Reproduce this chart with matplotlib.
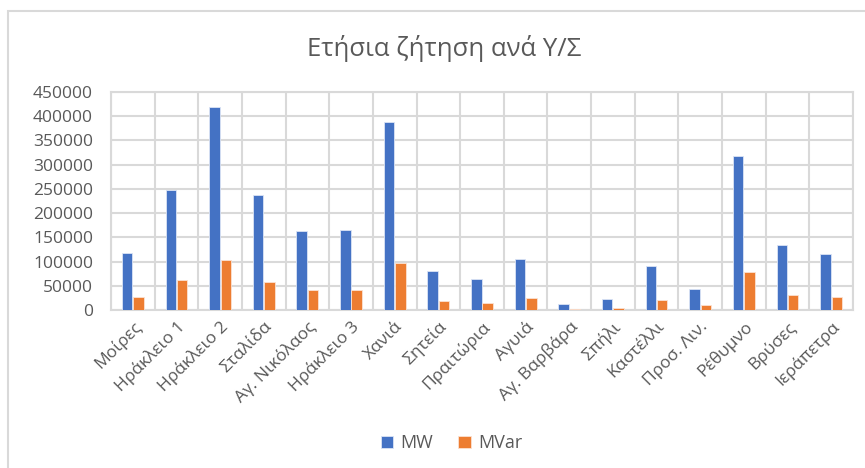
import matplotlib
matplotlib.use("Agg")
import matplotlib.pyplot as plt
from matplotlib.patches import Rectangle
import numpy as np

plt.rcParams['font.family'] = ['Open Sans', 'DejaVu Sans']

stations = ["Μοίρες", "Ηράκλειο 1", "Ηράκλειο 2", "Σταλίδα", "Αγ. Νικόλαος",
            "Ηράκλειο 3", "Χανιά", "Σητεία", "Πραιτώρια", "Αγυιά", "Αγ. Βαρβάρα",
            "Σπήλι", "Καστέλλι", "Προσ. Λιν.", "Ρέθυμνο", "Βρύσες", "Ιεράπετρα"]
mw = [117000, 247700, 418300, 236700, 163800, 165800, 388700, 80500, 63300,
      106000, 11700, 22700, 91500, 44000, 317200, 133500, 114900]
mvar = [27500, 62000, 102500, 57800, 40600, 40600, 96300, 18600, 14400,
        24800, 1500, 3400, 20600, 9600, 77700, 31600, 26800]
yticks = list(range(0, 450001, 50000))

text_col = "#595959"
grid_col = "#d9d9d9"

fig = plt.figure(figsize=(8.65, 4.68), dpi=100)
ax = fig.add_axes([0.1283, 0.3376, 0.8578, 0.4658])

# chart border
fig.patches.append(Rectangle((8 / 865, -0.1), 1.2, 1.1 - 11 / 468, transform=fig.transFigure,
                             fill=False, edgecolor=grid_col, linewidth=1.5))

x = np.arange(len(stations))
w = 0.24
ax.bar(x - 0.13, mw, w, color="#4472C4", edgecolor="#dbe4f5", linewidth=0.6, label="MW", zorder=3)
ax.bar(x + 0.13, mvar, w, color="#ED7D31", edgecolor="#fbe2d2", linewidth=0.6, label="MVar", zorder=3)

ax.set_xlim(-0.5, len(stations) - 0.5)
ax.set_ylim(0, 450000)
ax.set_yticks(yticks)
ax.set_yticklabels([str(v) for v in yticks], fontsize=12.5, color=text_col)
ax.set_xticks(x)
ax.set_xticklabels(stations, rotation=45, ha="right", rotation_mode="anchor",
                   fontsize=12.5, color=text_col)
ax.set_xticks(np.arange(len(stations) + 1) - 0.5, minor=True)
ax.tick_params(axis="both", which="both", length=0)
ax.tick_params(axis="y", pad=13)
ax.tick_params(axis="x", pad=6)

ax.grid(axis="y", which="major", color=grid_col, linewidth=1.5, zorder=0)
ax.grid(axis="x", which="minor", color=grid_col, linewidth=1.5, zorder=0)
for s in ax.spines.values():
    s.set_color(grid_col)
    s.set_linewidth(1.5)

fig.text(0.513, 0.897, "Ετήσια ζήτηση ανά Υ/Σ", ha="center", va="center",
         fontsize=18.5, color=text_col)

fig.legend(loc="center", bbox_to_anchor=(0.522, 0.053), ncol=2, frameon=False,
           fontsize=13, labelcolor=text_col, handlelength=0.7, handleheight=0.7,
           handletextpad=0.4, columnspacing=1.4)

fig.savefig("out.png", dpi=100)
